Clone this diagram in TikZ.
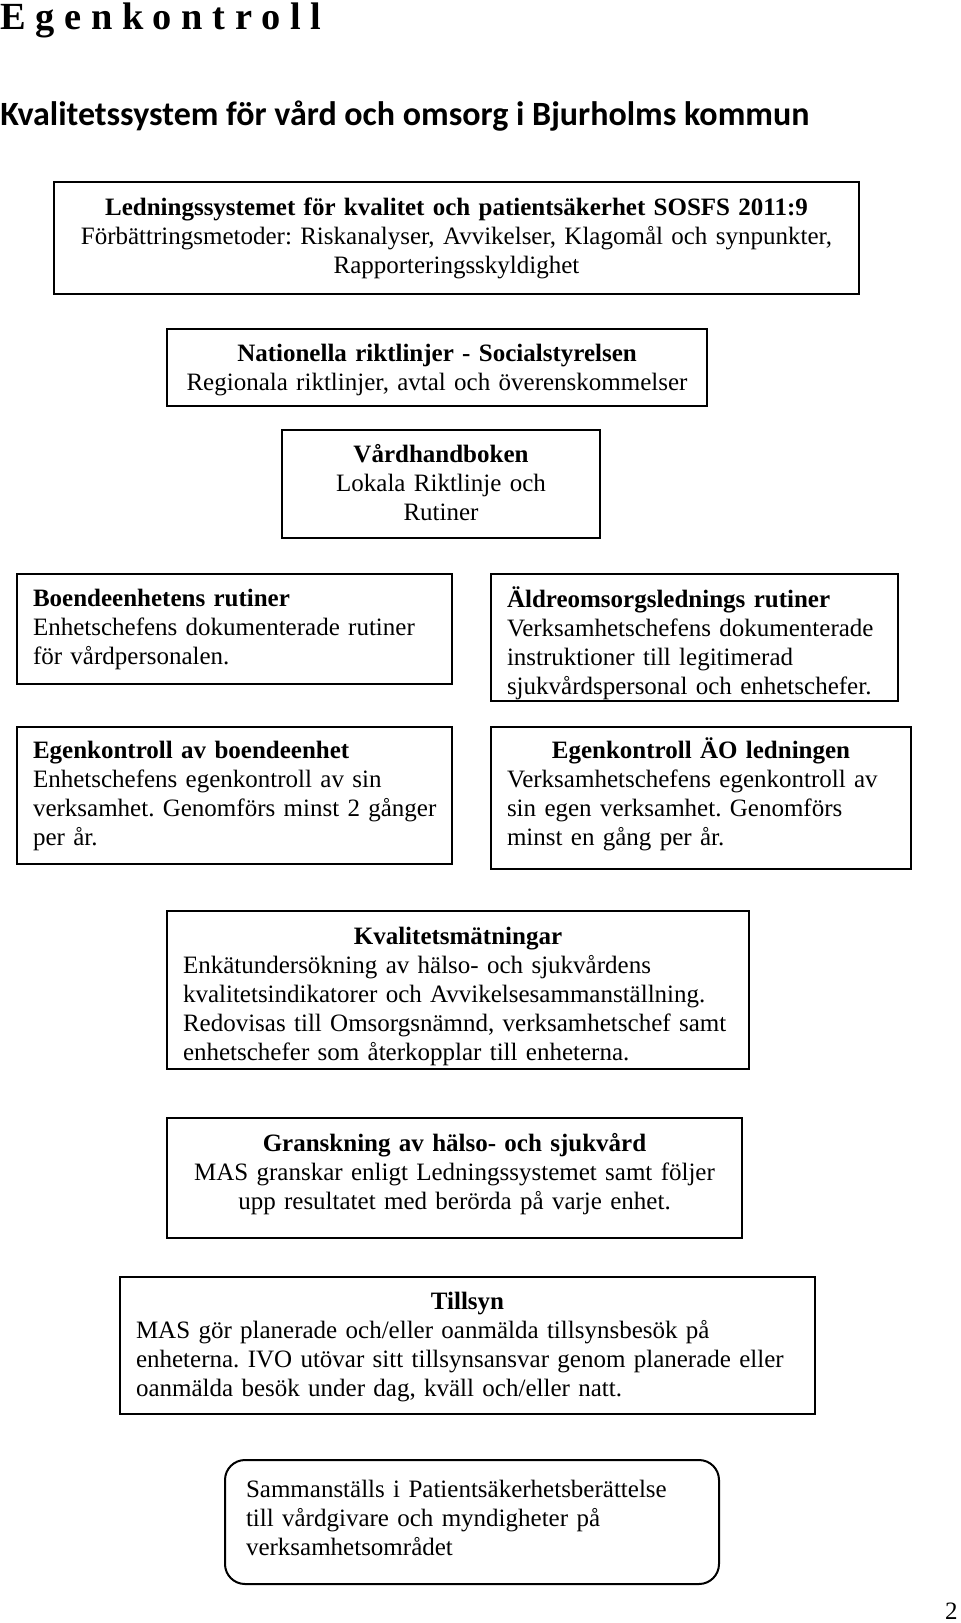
\documentclass[tikz,border=0pt]{standalone}
\usepackage{fontspec}
\setmainfont{Liberation Serif}
\newfontfamily\calibri{Carlito}
\frenchspacing
\tikzset{
  ramme/.style={draw, line width=1pt, inner xsep=8pt, inner ysep=0pt,
    font=\fontsize{12.5}{14.5}\selectfont},
  midt/.style={ramme, align=center},
  venstre/.style={ramme, align=left},
}
\newcommand{\rubrik}[1]{\makebox[\linewidth][c]{\bfseries #1}}
\newcommand{\ned}[1]{\rule{0pt}{#1}}
\newcommand{\opp}[1]{\rule[-#1]{0pt}{0pt}}
\begin{document}
\begin{tikzpicture}[x=0.5pt,y=-0.5pt]
  \useasboundingbox (0,0) rectangle (960,1623);
  \node[anchor=base west, inner sep=0pt, font=\fontsize{19.2}{21}\selectfont\bfseries] (titel) at (0,29.5) {E g e n k o n t r o l l};
  \node[anchor=base west, inner sep=0pt, font=\fontsize{17}{19}\selectfont\calibri\bfseries] (undertitel) at (0,125) {Kvalitetssystem för vård och omsorg i Bjurholms kommun};
  % ledningssystem och riktlinjer
  \node[midt, minimum width=402.5pt, minimum height=56pt, text width=386.5pt] (ledning) at (456.5,238)
    {\textbf{Ledningssystemet för kvalitet och patientsäkerhet SOSFS 2011:9}\\
     Förbättringsmetoder: Riskanalyser, Avvikelser, Klagomål och synpunkter,\\
     Rapporteringsskyldighet};
  \node[midt, minimum width=270pt, minimum height=38.5pt, text width=254pt] (riktlinjer) at (437,367.5)
    {\ned{11.5pt}\textbf{Nationella riktlinjer - Socialstyrelsen}\\
     Regionala riktlinjer, avtal och överenskommelser};
  \node[midt, minimum width=159pt, minimum height=54pt, text width=143pt] (handbok) at (441,484)
    {\textbf{Vårdhandboken}\\ Lokala Riktlinje och\\ Rutiner\opp{2pt}};
  % rutiner
  \node[venstre, minimum width=217.5pt, minimum height=55pt, text width=201.5pt] (boende) at (234.5,629)
    {\textbf{Boendeenhetens rutiner}\\
     Enhetschefens dokumenterade rutiner\\
     för vårdpersonalen.};
  \node[venstre, minimum width=203.5pt, minimum height=63.5pt, text width=187.5pt] (aldre) at (694.5,637.5)
    {\ned{16pt}\textbf{Äldreomsorgslednings rutiner}\\
     Verksamhetschefens dokumenterade\\
     instruktioner till legitimerad\\
     sjukvårdspersonal och enhetschefer.};
  % egenkontroll
  \node[venstre, minimum width=217.5pt, minimum height=68.5pt, text width=201.5pt] (egenboende) at (234.5,795.5)
    {\textbf{Egenkontroll av boendeenhet}\\
     Enhetschefens egenkontroll av sin\\
     \mbox{verksamhet. Genomförs minst 2 gånger}\\
     per år.};
  \node[venstre, minimum width=210pt, minimum height=71pt, text width=194pt] (egenao) at (701,798)
    {\rubrik{Egenkontroll ÄO ledningen}\\
     Verksamhetschefens egenkontroll av\\
     sin egen verksamhet. Genomförs\\
     minst en gång per år.\opp{6pt}};
  % uppföljning
  \node[venstre, minimum width=291pt, minimum height=79pt, text width=275pt] (matning) at (458,990)
    {\ned{15pt}\rubrik{Kvalitetsmätningar}\\
     Enkätundersökning av hälso- och sjukvårdens\\
     kvalitetsindikatorer och Avvikelsesammanställning.\\
     \mbox{Redovisas till Omsorgsnämnd, verksamhetschef samt}\\
     enhetschefer som återkopplar till enheterna.};
  \node[midt, minimum width=287.5pt, minimum height=60pt, text width=271.5pt] (granskning) at (454.5,1178)
    {\textbf{Granskning av hälso- och sjukvård}\\
     MAS granskar enligt Ledningssystemet samt följer\\
     upp resultatet med berörda på varje enhet.\opp{6.5pt}};
  \node[venstre, minimum width=347.5pt, minimum height=68.5pt, text width=331.5pt] (tillsyn) at (467.5,1345.5)
    {\ned{10pt}\rubrik{Tillsyn}\\
     MAS gör planerade och/eller oanmälda tillsynsbesök på\\
     \mbox{enheterna. IVO utövar sitt tillsynsansvar genom planerade eller}\\
     oanmälda besök under dag, kväll och/eller natt.};
  \node[venstre, rounded corners=10pt, inner xsep=10.5pt, minimum width=247pt, minimum height=62pt, text width=226pt] (berattelse) at (472,1522)
    {Sammanställs i Patientsäkerhetsberättelse\\
     till vårdgivare och myndigheter på\\
     verksamhetsområdet\opp{4pt}};
  \node[anchor=base east, inner sep=0pt, font=\fontsize{12.5}{14.5}\selectfont] (sida) at (958,1619) {2};
\end{tikzpicture}
\end{document}
